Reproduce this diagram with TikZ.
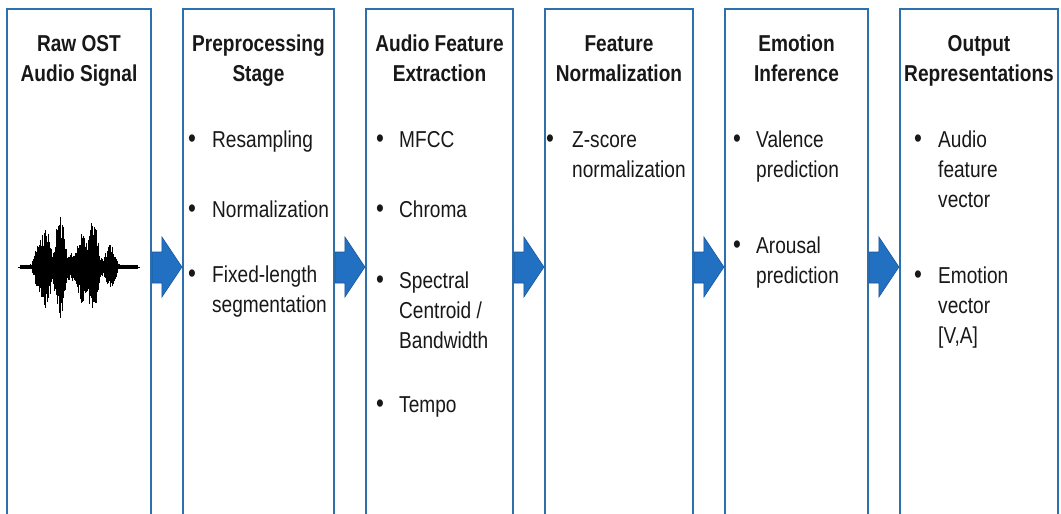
\documentclass[tikz,border=0pt]{standalone}
\usepackage{fontspec}
\setmainfont{Liberation Sans}[FakeStretch=0.83]
\usetikzlibrary{calc}
\definecolor{boxblue}{RGB}{46,112,172}
\definecolor{arrowblue}{RGB}{34,112,194}
\definecolor{arrowedge}{RGB}{24,86,152}
\definecolor{ink}{RGB}{24,24,24}
\tikzset{
  stagebox/.style={draw=boxblue, line width=2.2pt, fill=white, rectangle, inner sep=0pt, minimum height=521pt},
  titletext/.style={anchor=base, inner sep=0pt, text=ink, font=\fontsize{23}{30}\selectfont\bfseries},
  itemtext/.style={anchor=base west, inner sep=0pt, text=ink, font=\fontsize{23}{30}\selectfont},
  bulletmark/.style={anchor=base, inner sep=0pt, text=ink, font=\fontsize{27}{30}\selectfont},
  flowarrow/.style={fill=arrowblue, draw=arrowedge, line width=0.6pt, line join=miter}
}
\newcommand{\ttl}[1]{\parbox[t]{170pt}{\centering #1}}
\newcommand{\itm}[1]{\parbox[t]{150pt}{\raggedright #1}}
\begin{document}
\begin{tikzpicture}[x=1pt,y=-1pt]
\useasboundingbox (0,0) rectangle (1061,514);
\clip (0,0) rectangle (1061,514);
% stage boxes
\node[stagebox, minimum width=144pt] (b1) at (79,269.5) {};
\node[stagebox, minimum width=151pt] (b2) at (258.5,269.5) {};
\node[stagebox, minimum width=147pt] (b3) at (439.5,269.5) {};
\node[stagebox, minimum width=148pt] (b4) at (619,269.5) {};
\node[stagebox, minimum width=143pt] (b5) at (796.5,269.5) {};
\node[stagebox, minimum width=158pt] (b6) at (979,269.5) {};
% arrows between boxes
\foreach \a/\b in {b1/b2,b2/b3,b3/b4,b4/b5,b5/b6}{
  \path[flowarrow] let \p1=(\a.east), \p2=(\b.west) in
    (\x1,-252pt) -- (\x2-20pt,-252pt) -- (\x2-20pt,-237pt) -- (\x2,-267pt)
    -- (\x2-20pt,-297pt) -- (\x2-20pt,-283pt) -- (\x1,-283pt) -- cycle;
}
% titles
\node[titletext] (t1) at (79,51) {\ttl{Raw OST\\Audio Signal}};
\node[titletext] (t2) at (258.5,51) {\ttl{Preprocessing\\Stage}};
\node[titletext] (t3) at (439.5,51) {\ttl{Audio Feature\\Extraction}};
\node[titletext] (t4) at (619,51) {\ttl{Feature\\Normalization}};
\node[titletext] (t5) at (796.5,51) {\ttl{Emotion\\Inference}};
\node[titletext] (t6) at (979,51) {\ttl{Output\\Representations}};
% box 2 items
\node[bulletmark] (p1) at (192,147) {•};
\node[itemtext] (i21) at (212,147) {\itm{Resampling}};
\node[bulletmark] (p2) at (192,217) {•};
\node[itemtext] (i22) at (212,217) {\itm{Normalization}};
\node[bulletmark] (p3) at (192,282) {•};
\node[itemtext] (i23) at (212,282) {\itm{Fixed-length\\segmentation}};
% box 3 items
\node[bulletmark] (p4) at (380,147) {•};
\node[itemtext] (i31) at (399,147) {\itm{MFCC}};
\node[bulletmark] (p5) at (380,217) {•};
\node[itemtext] (i32) at (399,217) {\itm{Chroma}};
\node[bulletmark] (p6) at (380,288) {•};
\node[itemtext] (i33) at (399,288) {\itm{Spectral\\Centroid /\\Bandwidth}};
\node[bulletmark] (p7) at (380,412) {•};
\node[itemtext] (i34) at (399,412) {\itm{Tempo}};
% box 4 items
\node[bulletmark] (p8) at (550,147) {•};
\node[itemtext] (i41) at (572,147) {\itm{Z-score\\normalization}};
% box 5 items
\node[bulletmark] (p9) at (737,147) {•};
\node[itemtext] (i51) at (756,147) {\itm{Valence\\prediction}};
\node[bulletmark] (p10) at (737,253) {•};
\node[itemtext] (i52) at (756,253) {\itm{Arousal\\prediction}};
% box 6 items
\node[bulletmark] (p11) at (918,147) {•};
\node[itemtext] (i61) at (938,147) {\itm{Audio\\feature\\vector}};
\node[bulletmark] (p12) at (918,283) {•};
\node[itemtext] (i62) at (938,283) {\itm{Emotion\\vector\\{[V,A]}}};
% waveform
\pgfmathsetseed{7}
\draw[black, line width=0.8pt] (18,267) -- (140,267);
\foreach \x in {20,20.6,...,138}{
  \pgfmathsetmacro{\env}{2.5
    + 16*max(0,1-((\x-38)/7)^2)^2
    + 32*max(0,1-((\x-46)/8)^2)^2
    + 41*max(0,1-((\x-60)/8)^2)^2
    + 22*max(0,1-((\x-82)/7)^2)^2
    + 36*max(0,1-((\x-93)/8)^2)^2
    + 16*max(0,1-((\x-111)/8)^2)^2
    + 12*max(0,1-((\x-75)/45)^2)}
  \pgfmathsetmacro{\up}{\env*(0.55+0.45*rnd)}
  \pgfmathsetmacro{\dn}{\env*(0.55+0.45*rnd)}
  \draw[black, line width=0.7pt] (\x,267-\up) -- (\x,267+\dn);
}
\end{tikzpicture}
\end{document}
